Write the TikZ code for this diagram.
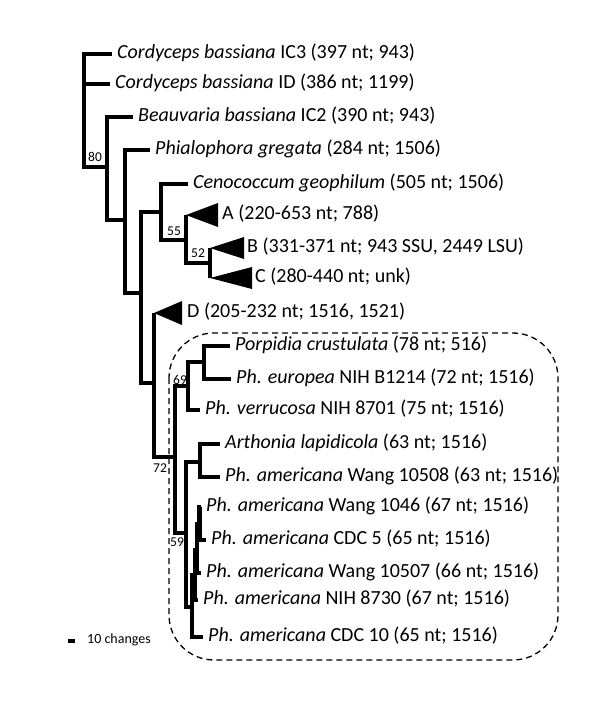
\documentclass[tikz,border=0pt]{standalone}
\usepackage{fontspec}
\setmainfont{Carlito}
\begin{document}
\begin{tikzpicture}[x=1pt,y=-1pt,
  br/.style={line width=4.5pt, line join=miter},
  lab/.style={anchor=base west, inner sep=0pt, font=\fontsize{20}{22}\selectfont},
  bsl/.style={anchor=center, inner sep=0pt, font=\fontsize{13.5}{15}\selectfont},
  clade/.style={fill=black},
  box/.style={line width=1.3pt, dash pattern=on 6pt off 4pt, rounded corners=45pt}]
\useasboundingbox (0,0) rectangle (600,713);

% internal nodes
\coordinate (n0) at (84,110);
\coordinate (n1) at (107,167);
\coordinate (n2) at (125,220);
\coordinate (n3) at (141,293);
\coordinate (n4) at (161,212);
\coordinate (n5) at (186,240);
\coordinate (n6) at (210,263);
\coordinate (n7) at (154,383);
\coordinate (n8) at (175,457);
\coordinate (n9) at (188,386);
\coordinate (n10) at (204,362);
\coordinate (n11) at (186,533);
\coordinate (n12) at (200,462);
\coordinate (n13) at (192,607);
\coordinate (n14) at (195,575);
\coordinate (n15) at (197,550);
\coordinate (n16) at (199.5,524);

% tips
\coordinate (c1) at (112,54);
\coordinate (c2) at (110,84);
\coordinate (c3) at (133,117);
\coordinate (c4) at (150,150);
\coordinate (c5) at (188,184);
\coordinate (tA) at (186,215);
\coordinate (tB) at (210,248);
\coordinate (tC) at (210,278);
\coordinate (tD) at (154,313);
\coordinate (c10) at (230,346);
\coordinate (c11) at (231,379);
\coordinate (c12) at (200,410);
\coordinate (c13) at (220,444);
\coordinate (c14) at (220,477);
\coordinate (c15) at (201,507);
\coordinate (c16) at (206,540);
\coordinate (c17) at (201,573);
\coordinate (c18) at (198,600);
\coordinate (c19) at (203,637);

% dashed box
\draw[box] (169,333) rectangle (558,660);

% branches
\draw[br] (n0) |- (c1);
\draw[br] (n0) |- (c2);
\draw[br] (n0) |- (n1);
\draw[br] (n1) |- (c3);
\draw[br] (n1) |- (n2);
\draw[br] (n2) |- (c4);
\draw[br] (n2) |- (n3);
\draw[br] (n3) |- (n4);
\draw[br] (n3) |- (n7);
\draw[br] (n4) |- (c5);
\draw[br] (n4) |- (n5);
\draw[br] (n5) |- (tA);
\draw[br] (n5) |- (n6);
\draw[br] (n6) |- (tB);
\draw[br] (n6) |- (tC);
\draw[br] (n7) |- (tD);
\draw[br] (n7) |- (n8);
\draw[br] (n8) |- (n9);
\draw[br] (n8) |- (n11);
\draw[br] (n9) |- (n10);
\draw[br] (n9) |- (c12);
\draw[br] (n10) |- (c10);
\draw[br] (n10) |- (c11);
\draw[br] (n11) |- (n12);
\draw[br] (n11) |- (n13);
\draw[br] (n12) |- (c13);
\draw[br] (n12) |- (c14);
\draw[br] (n13) |- (n14);
\draw[br] (n13) |- (c19);
\draw[br] (n14) |- (n15);
\draw[br] (n14) |- (c18);
\draw[br] (n15) |- (n16);
\draw[br] (n15) |- (c17);
\draw[br] (n16) |- (c15);
\draw[br] (n16) |- (c16);

% collapsed clades
\fill[clade] (tA) -- ++(32,-12) -- ++(0,24) -- cycle;
\fill[clade] (tB) -- ++(34,-11) -- ++(0,22) -- cycle;
\fill[clade] (tC) -- ++(42,-11) -- ++(0,22) -- cycle;
\fill[clade] (tD) -- ++(28,-12) -- ++(0,24) -- cycle;

% tip labels
\node[lab] (l1) at ([shift={(5pt,-4.5pt)}]c1) {\textit{Cordyceps bassiana} IC3 (397 nt; 943)};
\node[lab] (l2) at ([shift={(5pt,-4.5pt)}]c2) {\textit{Cordyceps bassiana} ID (386 nt; 1199)};
\node[lab] (l3) at ([shift={(5pt,-4.5pt)}]c3) {\textit{Beauvaria bassiana} IC2 (390 nt; 943)};
\node[lab] (l4) at ([shift={(5pt,-4.5pt)}]c4) {\textit{Phialophora gregata} (284 nt; 1506)};
\node[lab] (l5) at ([shift={(5pt,-4.5pt)}]c5) {\textit{Cenococcum geophilum} (505 nt; 1506)};
\node[lab] (lA) at ([shift={(36pt,-4.5pt)}]tA) {A (220-653 nt; 788)};
\node[lab] (lB) at ([shift={(37pt,-4.5pt)}]tB) {B (331-371 nt; 943 SSU, 2449 LSU)};
\node[lab] (lC) at ([shift={(45pt,-4.5pt)}]tC) {C (280-440 nt; unk)};
\node[lab] (lD) at ([shift={(33pt,-4.5pt)}]tD) {D (205-232 nt; 1516, 1521)};
\node[lab] (l10) at ([shift={(5pt,-4.5pt)}]c10) {\textit{Porpidia crustulata} (78 nt; 516)};
\node[lab] (l11) at ([shift={(5pt,-4.5pt)}]c11) {\textit{Ph. europea} NIH B1214 (72 nt; 1516)};
\node[lab] (l12) at ([shift={(5pt,-4.5pt)}]c12) {\textit{Ph. verrucosa} NIH 8701 (75 nt; 1516)};
\node[lab] (l13) at ([shift={(5pt,-4.5pt)}]c13) {\textit{Arthonia lapidicola} (63 nt; 1516)};
\node[lab] (l14) at ([shift={(5pt,-4.5pt)}]c14) {\textit{Ph. americana} Wang 10508 (63 nt; 1516)};
\node[lab] (l15) at ([shift={(5pt,-4.5pt)}]c15) {\textit{Ph. americana} Wang 1046 (67 nt; 1516)};
\node[lab] (l16) at ([shift={(5pt,-4.5pt)}]c16) {\textit{Ph. americana} CDC 5 (65 nt; 1516)};
\node[lab] (l17) at ([shift={(5pt,-4.5pt)}]c17) {\textit{Ph. americana} Wang 10507 (66 nt; 1516)};
\node[lab] (l18) at ([shift={(5pt,-4.5pt)}]c18) {\textit{Ph. americana} NIH 8730 (67 nt; 1516)};
\node[lab] (l19) at ([shift={(5pt,-4.5pt)}]c19) {\textit{Ph. americana} CDC 10 (65 nt; 1516)};

% bootstrap values
\node[bsl] (b80) at (95,157) {80};
\node[bsl] (b55) at (174,231) {55};
\node[bsl] (b52) at (198,253) {52};
\node[bsl] (b69) at (180,380) {69};
\node[bsl] (b72) at (160,468) {72};
\node[bsl] (b59) at (177,542) {59};

% scale bar
\coordinate (sb1) at (68,641);
\coordinate (sb2) at (75,641);
\draw[line width=3.5pt] (sb1) -- (sb2);
\node[anchor=west, inner sep=0pt, font=\fontsize{14}{16}\selectfont] (sbl) at (87,640) {10 changes};
\end{tikzpicture}
\end{document}
